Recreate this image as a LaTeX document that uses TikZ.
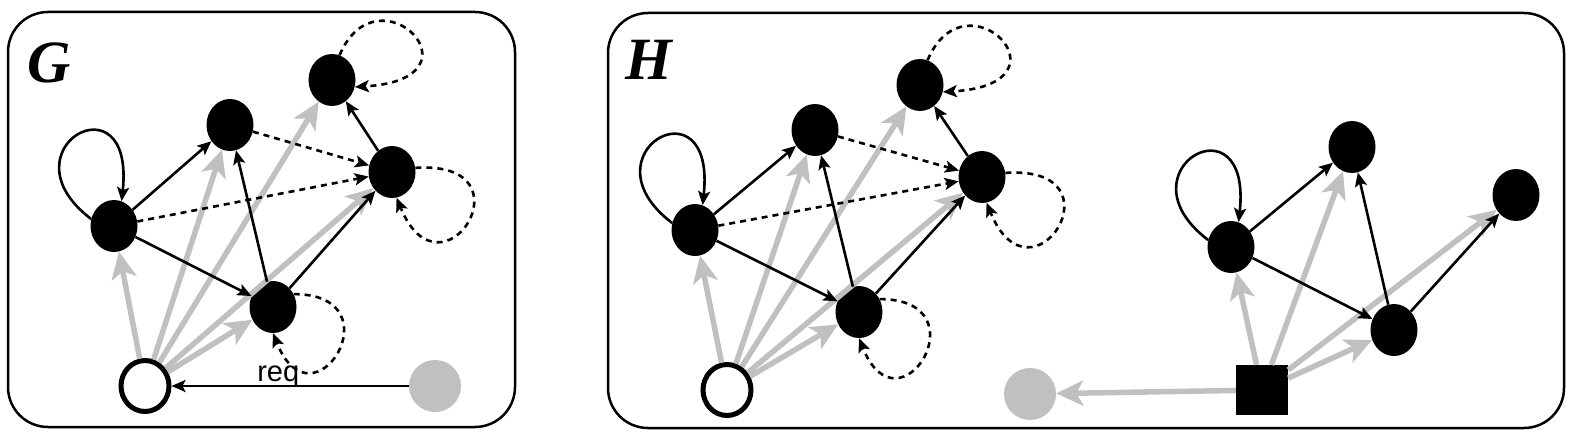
\documentclass[tikz,border=0pt]{standalone}
\usepackage{fontspec}
\setmainfont{Liberation Serif}
\newfontfamily\lsans{Liberation Sans}
\usetikzlibrary{shapes.geometric,arrows.meta}
\definecolor{lgray}{RGB}{192,192,192}
\begin{document}
\begin{tikzpicture}[x=1pt,y=-1pt,
  blk/.style={ellipse,fill=black,minimum width=47pt,minimum height=52pt,inner sep=0pt},
  opn/.style={ellipse,draw=black,fill=white,line width=5pt,minimum width=48pt,minimum height=51pt,inner sep=0pt},
  gdot/.style={circle,fill=lgray,minimum size=52pt,inner sep=0pt},
  sqr/.style={rectangle,fill=black,minimum width=52pt,minimum height=50pt,inner sep=0pt},
  panel/.style={draw=black,line width=2.5pt,rounded corners=40pt},
  bl/.style={draw=black,line width=2.6pt,-{Stealth[length=14pt,width=12pt,inset=3pt]}},
  dl/.style={bl,dash pattern=on 6pt off 5pt},
  gl/.style={draw=lgray,line width=5.5pt,-{Stealth[length=27pt,width=25pt,inset=7pt]}},
  ttl/.style={font=\fontsize{60}{60}\selectfont\bfseries\itshape,anchor=base west,inner sep=0pt},
  lbl/.style={font=\lsans\fontsize{29}{30}\selectfont,inner sep=0pt},
]
\useasboundingbox (0,0) rectangle (1574,436);
% panels
\draw[panel] (8,12) rectangle (515,427);
\draw[panel] (608,13) rectangle (1564,428);
\node[ttl] (tG) at (27,82) {G};
\node[ttl] (tH) at (625,80) {H};

% ---------- graph G ----------
\node[blk] (a1) at (114,226) {};
\node[blk] (b1) at (230,125) {};
\node[blk] (c1) at (332,80) {};
\node[blk] (d1) at (392,172) {};
\node[blk] (e1) at (273,307) {};
\node[opn] (o1) at (145,386) {};
\node[gdot] (r1) at (435,386) {};

\draw[gl] (o1) -- (a1);
\draw[gl] (o1) -- (b1);
\draw[gl] (o1) -- (c1);
\draw[gl] (o1) -- (d1);
\draw[gl] (o1) -- (e1);

\draw[bl] (a1) -- (b1);
\draw[bl] (a1) -- (e1);
\draw[bl] (e1) -- (b1);
\draw[bl] (e1) -- (d1);
\draw[bl] (d1) -- (c1);
\draw[dl] (b1) -- (d1);
\draw[dl] (a1) -- (d1);
\draw[bl] (a1.163) .. controls +(-92,-70) and +(14,-128) .. (a1.73);
\draw[dl] (c1.73) .. controls +(38,-90) and +(135,-8) .. (c1.-17);
\draw[dl] (d1.10) .. controls +(120,-8) and +(45,110) .. (d1.-80);
\draw[dl] (e1.32) .. controls +(105,0) and +(40,100) .. (e1.-90);
\draw[bl] (r1) -- node[lbl,pos=0.55,anchor=base,yshift=5pt] {req} (o1);

% ---------- graph H, left part ----------
\node[blk] (a2) at (695,230) {};
\node[blk] (b2) at (815,130) {};
\node[blk] (c2) at (920,85) {};
\node[blk] (d2) at (982,177) {};
\node[blk] (e2) at (859,312) {};
\node[opn] (o2) at (727,390) {};
\node[gdot] (r2) at (1030,394) {};

\draw[gl] (o2) -- (a2);
\draw[gl] (o2) -- (b2);
\draw[gl] (o2) -- (c2);
\draw[gl] (o2) -- (d2);
\draw[gl] (o2) -- (e2);

\draw[bl] (a2) -- (b2);
\draw[bl] (a2) -- (e2);
\draw[bl] (e2) -- (b2);
\draw[bl] (e2) -- (d2);
\draw[bl] (d2) -- (c2);
\draw[dl] (b2) -- (d2);
\draw[dl] (a2) -- (d2);
\draw[bl] (a2.163) .. controls +(-92,-70) and +(14,-128) .. (a2.73);
\draw[dl] (c2.73) .. controls +(38,-90) and +(135,-8) .. (c2.-17);
\draw[dl] (d2.10) .. controls +(120,-8) and +(45,110) .. (d2.-80);
\draw[dl] (e2.32) .. controls +(105,0) and +(40,100) .. (e2.-90);

% ---------- graph H, right part ----------
\node[blk] (a3) at (1231,247) {};
\node[blk] (b3) at (1352,147) {};
\node[blk] (f3) at (1516,195) {};
\node[blk] (e3) at (1394,330) {};
\node[sqr] (s3) at (1262,390) {};

\draw[gl] (s3) -- (a3);
\draw[gl] (s3) -- (b3);
\draw[gl] (s3) -- (e3);
\draw[gl] (s3) -- (f3);
\draw[gl] (s3) -- (r2);

\draw[bl] (a3) -- (b3);
\draw[bl] (a3) -- (e3);
\draw[bl] (e3) -- (b3);
\draw[bl] (e3) -- (f3);
\draw[bl] (a3.163) .. controls +(-92,-70) and +(14,-128) .. (a3.73);
\end{tikzpicture}
\end{document}
